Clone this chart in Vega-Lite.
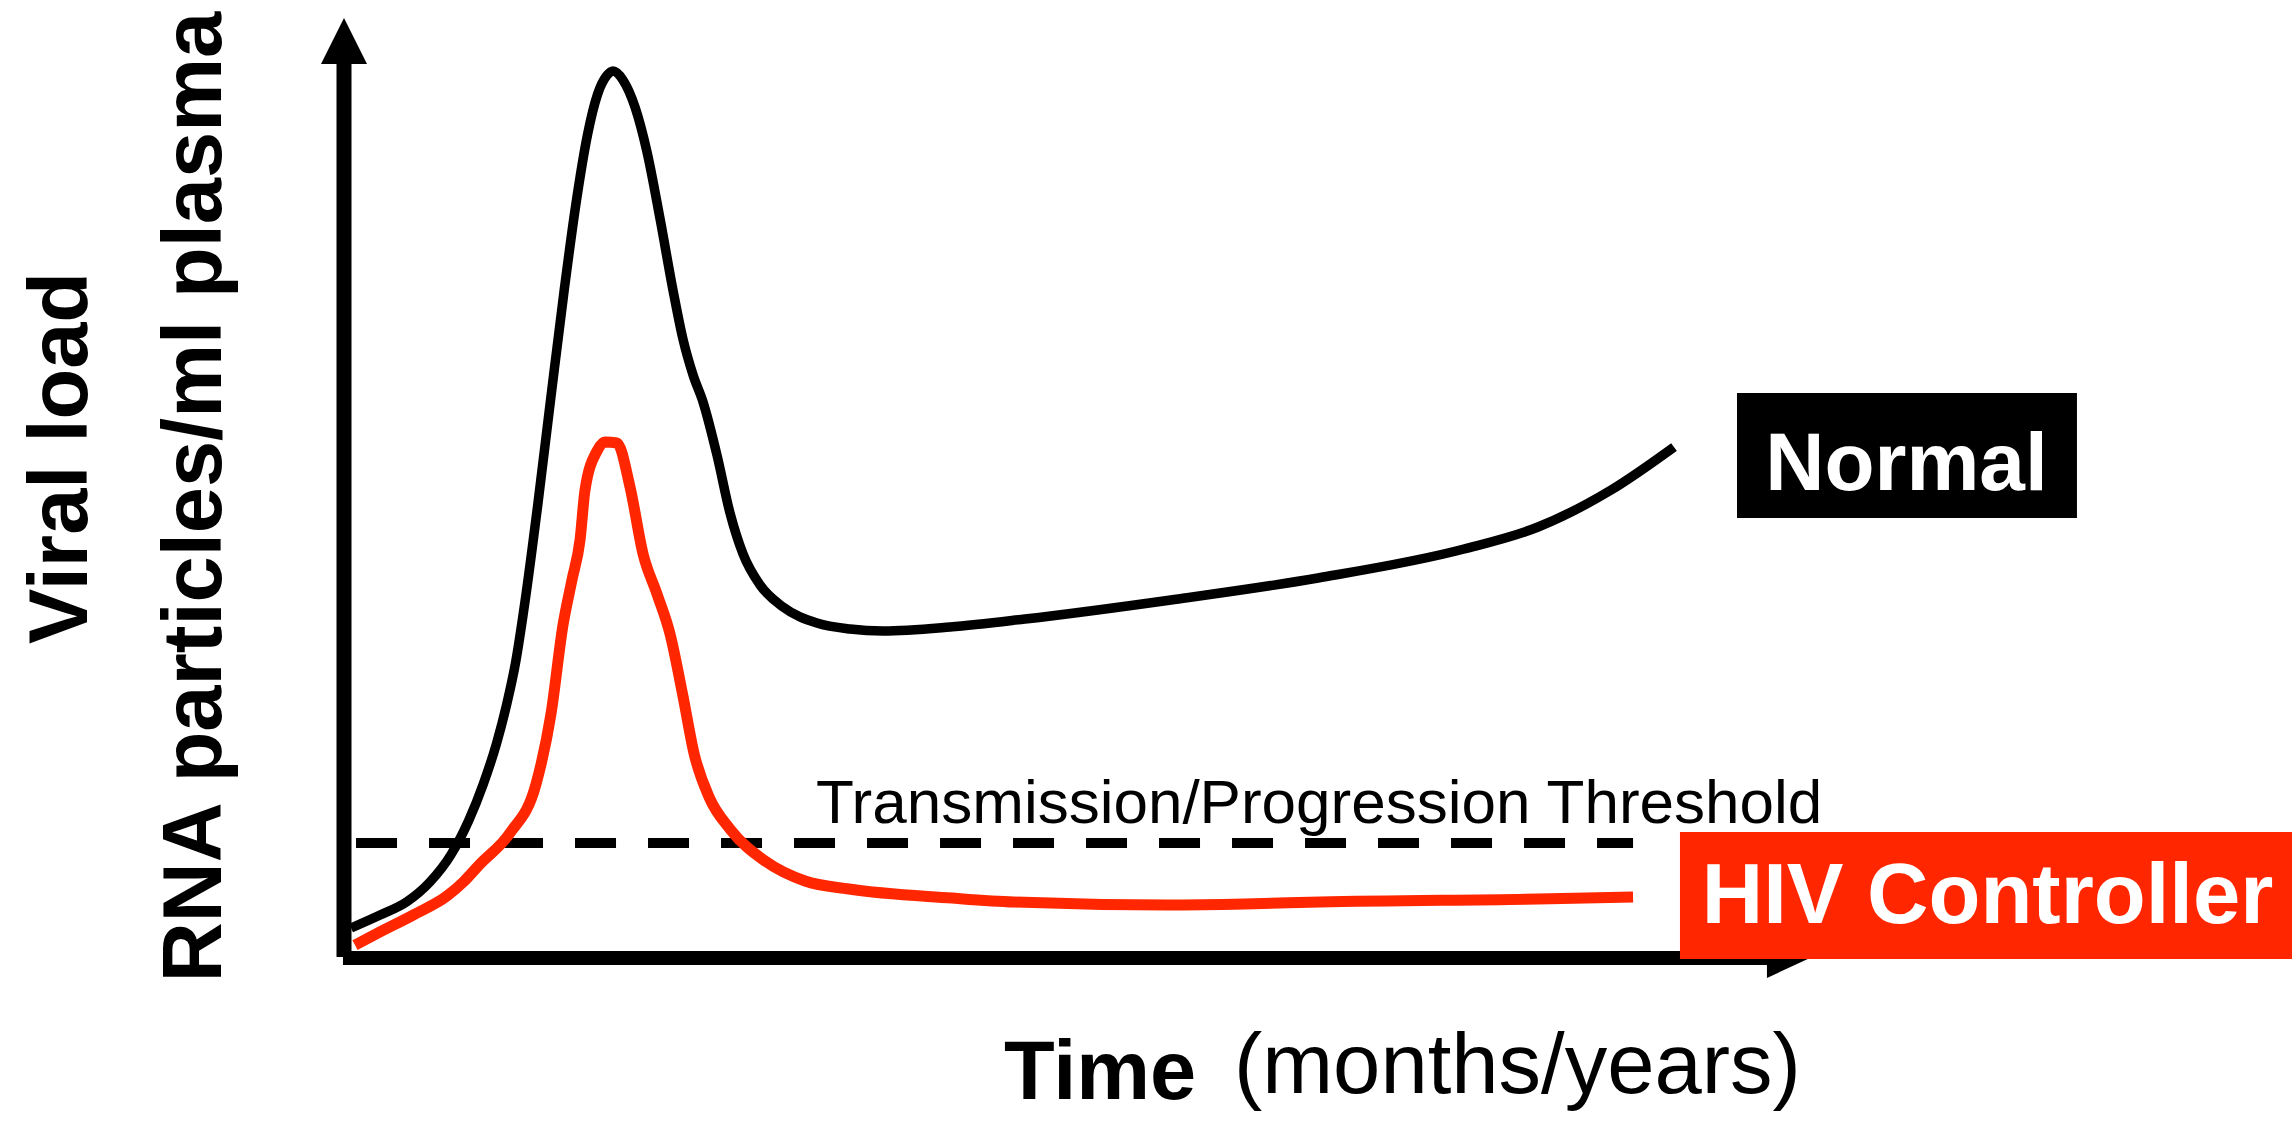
{
  "$schema": "https://vega.github.io/schema/vega-lite/v6.json",
  "width": 1466,
  "height": 940,
  "autosize": {"type": "none"},
  "padding": {"left": 344, "top": 18, "right": 486, "bottom": 165},
  "background": "white",
  "config": {"view": {"stroke": null}, "font": "Liberation Sans"},
  "data": {"values": [{}]},
  "datasets": {
    "curves": [
      {"series": "Normal", "t": 0.48, "load": 3.19},
      {"series": "Normal", "t": 2.46, "load": 4.57},
      {"series": "Normal", "t": 4.30, "load": 6.0},
      {"series": "Normal", "t": 5.87, "load": 8.1},
      {"series": "Normal", "t": 7.3, "load": 11.0},
      {"series": "Normal", "t": 8.5, "load": 14.6},
      {"series": "Normal", "t": 9.5, "load": 18.5},
      {"series": "Normal", "t": 10.4, "load": 22.8},
      {"series": "Normal", "t": 11.1, "load": 27.0},
      {"series": "Normal", "t": 11.7, "load": 31.4},
      {"series": "Normal", "t": 12.4, "load": 38.5},
      {"series": "Normal", "t": 13.2, "load": 48.0},
      {"series": "Normal", "t": 14.1, "load": 59.5},
      {"series": "Normal", "t": 15.0, "load": 70.8},
      {"series": "Normal", "t": 15.8, "load": 80.0},
      {"series": "Normal", "t": 16.6, "load": 87.5},
      {"series": "Normal", "t": 17.3, "load": 91.9},
      {"series": "Normal", "t": 17.94, "load": 93.9},
      {"series": "Normal", "t": 18.35, "load": 94.36},
      {"series": "Normal", "t": 19.03, "load": 93.40},
      {"series": "Normal", "t": 19.85, "load": 90.53},
      {"series": "Normal", "t": 20.67, "load": 85.74},
      {"series": "Normal", "t": 21.56, "load": 78.62},
      {"series": "Normal", "t": 22.44, "load": 71.06},
      {"series": "Normal", "t": 23.12, "load": 65.85},
      {"series": "Normal", "t": 23.81, "load": 62.02},
      {"series": "Normal", "t": 24.49, "load": 59.15},
      {"series": "Normal", "t": 25.44, "load": 53.51},
      {"series": "Normal", "t": 26.33, "load": 47.34},
      {"series": "Normal", "t": 27.22, "load": 42.98},
      {"series": "Normal", "t": 28.38, "load": 39.68},
      {"series": "Normal", "t": 29.95, "load": 37.34},
      {"series": "Normal", "t": 32.26, "load": 35.64},
      {"series": "Normal", "t": 34.52, "load": 35.0},
      {"series": "Normal", "t": 36.77, "load": 34.79},
      {"series": "Normal", "t": 41.34, "load": 35.21},
      {"series": "Normal", "t": 46.45, "load": 36.06},
      {"series": "Normal", "t": 56.41, "load": 38.09},
      {"series": "Normal", "t": 66.44, "load": 40.43},
      {"series": "Normal", "t": 76.40, "load": 43.51},
      {"series": "Normal", "t": 81.45, "load": 45.85},
      {"series": "Normal", "t": 86.43, "load": 49.79},
      {"series": "Normal", "t": 90.72, "load": 54.36},
      {"series": "HIV Controller", "t": 0.75, "load": 1.38},
      {"series": "HIV Controller", "t": 2.46, "load": 2.77},
      {"series": "HIV Controller", "t": 4.71, "load": 4.57},
      {"series": "HIV Controller", "t": 7.03, "load": 6.6},
      {"series": "HIV Controller", "t": 8.15, "load": 8.1},
      {"series": "HIV Controller", "t": 9.28, "load": 10.0},
      {"series": "HIV Controller", "t": 11.32, "load": 13.3},
      {"series": "HIV Controller", "t": 13.10, "load": 18.51},
      {"series": "HIV Controller", "t": 14.12, "load": 25.96},
      {"series": "HIV Controller", "t": 14.94, "load": 35.43},
      {"series": "HIV Controller", "t": 15.55, "load": 40.21},
      {"series": "HIV Controller", "t": 16.10, "load": 44.47},
      {"series": "HIV Controller", "t": 16.44, "load": 49.79},
      {"series": "HIV Controller", "t": 17.26, "load": 53.94},
      {"series": "HIV Controller", "t": 17.80, "load": 54.89},
      {"series": "HIV Controller", "t": 18.62, "load": 54.79},
      {"series": "HIV Controller", "t": 19.51, "load": 50.11},
      {"series": "HIV Controller", "t": 20.40, "load": 42.98},
      {"series": "HIV Controller", "t": 21.35, "load": 38.72},
      {"series": "HIV Controller", "t": 22.24, "load": 34.47},
      {"series": "HIV Controller", "t": 23.12, "load": 27.87},
      {"series": "HIV Controller", "t": 23.87, "load": 21.81},
      {"series": "HIV Controller", "t": 24.90, "load": 17.13},
      {"series": "HIV Controller", "t": 26.33, "load": 13.72},
      {"series": "HIV Controller", "t": 28.72, "load": 10.32},
      {"series": "HIV Controller", "t": 31.45, "load": 8.19},
      {"series": "HIV Controller", "t": 34.45, "load": 7.34},
      {"series": "HIV Controller", "t": 41.47, "load": 6.38},
      {"series": "HIV Controller", "t": 45.70, "load": 5.96},
      {"series": "HIV Controller", "t": 56.14, "load": 5.64},
      {"series": "HIV Controller", "t": 61.46, "load": 5.74},
      {"series": "HIV Controller", "t": 66.58, "load": 5.96},
      {"series": "HIV Controller", "t": 81.45, "load": 6.28},
      {"series": "HIV Controller", "t": 87.93, "load": 6.49}
    ]
  },
  "layer": [
    {
      "mark": {"type": "rule", "color": "black", "strokeWidth": 15, "strokeCap": "butt"},
      "encoding": {
        "x": {"datum": 0, "type": "quantitative", "scale": {"domain": [0, 100], "nice": false, "zero": false}, "axis": null},
        "y": {"datum": 0.1, "type": "quantitative", "scale": {"domain": [0, 100], "nice": false, "zero": false}, "axis": null},
        "y2": {"datum": 96}
      }
    },
    {
      "mark": {"type": "rule", "color": "black", "strokeWidth": 14, "strokeCap": "butt"},
      "encoding": {
        "x": {"datum": -0.07, "type": "quantitative"},
        "x2": {"datum": 97.2},
        "y": {"datum": 0, "type": "quantitative"}
      }
    },
    {
      "mark": {"type": "point", "shape": "M0,-1L1,1L-1,1Z", "filled": true, "color": "black", "opacity": 1, "size": 2116, "strokeWidth": 0},
      "encoding": {
        "x": {"datum": 0, "type": "quantitative"},
        "y": {"datum": 97.55, "type": "quantitative"}
      }
    },
    {
      "mark": {"type": "point", "shape": "M1,0L-1,-0.93L-1,0.93Z", "filled": true, "color": "black", "opacity": 1, "size": 1849, "strokeWidth": 0},
      "encoding": {
        "x": {"datum": 98.53, "type": "quantitative"},
        "y": {"datum": 0, "type": "quantitative"}
      }
    },
    {
      "mark": {"type": "rule", "color": "black", "strokeWidth": 10, "strokeDash": [41, 32], "strokeCap": "butt"},
      "encoding": {
        "x": {"datum": 0.82, "type": "quantitative"},
        "x2": {"datum": 87.93},
        "y": {"datum": 12.23, "type": "quantitative"}
      }
    },
    {
      "data": {"name": "curves"},
      "transform": [{"filter": "datum.series === 'Normal'"}],
      "mark": {"type": "line", "color": "black", "strokeWidth": 9.5, "interpolate": "monotone", "strokeCap": "butt", "strokeJoin": "round"},
      "encoding": {
        "x": {"field": "t", "type": "quantitative"},
        "y": {"field": "load", "type": "quantitative"}
      }
    },
    {
      "data": {"name": "curves"},
      "transform": [{"filter": "datum.series === 'HIV Controller'"}],
      "mark": {"type": "line", "color": "#ff2600", "strokeWidth": 11, "interpolate": "monotone", "strokeCap": "butt", "strokeJoin": "round"},
      "encoding": {
        "x": {"field": "t", "type": "quantitative"},
        "y": {"field": "load", "type": "quantitative"}
      }
    },
    {
      "mark": {"type": "rect", "color": "black"},
      "encoding": {
        "x": {"datum": 95.02, "type": "quantitative"},
        "x2": {"datum": 118.21},
        "y": {"datum": 60.11, "type": "quantitative"},
        "y2": {"datum": 46.81}
      }
    },
    {
      "mark": {"type": "rect", "color": "#ff2600"},
      "encoding": {
        "x": {"datum": 91.13, "type": "quantitative"},
        "x2": {"datum": 132.88},
        "y": {"datum": 13.4, "type": "quantitative"},
        "y2": {"datum": -0.11}
      }
    },
    {
      "mark": {"type": "text", "color": "white", "font": "Liberation Sans", "fontWeight": "bold", "fontSize": 82, "align": "center", "baseline": "alphabetic"},
      "encoding": {
        "x": {"datum": 106.58, "type": "quantitative"},
        "y": {"datum": 49.79, "type": "quantitative"},
        "text": {"value": "Normal"}
      }
    },
    {
      "mark": {"type": "text", "color": "white", "font": "Liberation Sans", "fontWeight": "bold", "fontSize": 85, "align": "center", "baseline": "alphabetic"},
      "encoding": {
        "x": {"datum": 112.11, "type": "quantitative"},
        "y": {"datum": 3.72, "type": "quantitative"},
        "text": {"value": "HIV Controller"}
      }
    },
    {
      "mark": {"type": "text", "color": "black", "font": "Liberation Sans", "fontSize": 62, "align": "left", "baseline": "alphabetic"},
      "encoding": {
        "x": {"datum": 32.2, "type": "quantitative"},
        "y": {"datum": 14.36, "type": "quantitative"},
        "text": {"value": "Transmission/Progression Threshold"}
      }
    },
    {
      "mark": {"type": "text", "color": "black", "font": "Liberation Sans", "fontWeight": "bold", "fontSize": 83, "align": "center", "baseline": "alphabetic", "angle": 270},
      "encoding": {
        "x": {"datum": -17.53, "type": "quantitative"},
        "y": {"datum": 53.19, "type": "quantitative"},
        "text": {"value": "Viral load"}
      }
    },
    {
      "mark": {"type": "text", "color": "black", "font": "Liberation Sans", "fontWeight": "bold", "fontSize": 83, "align": "center", "baseline": "alphabetic", "angle": 270},
      "encoding": {
        "x": {"datum": -8.39, "type": "quantitative"},
        "y": {"datum": 49.04, "type": "quantitative"},
        "text": {"value": "RNA particles/ml plasma"}
      }
    },
    {
      "mark": {"type": "text", "color": "black", "font": "Liberation Sans", "fontWeight": "bold", "fontSize": 83, "align": "left", "baseline": "alphabetic"},
      "encoding": {
        "x": {"datum": 45.02, "type": "quantitative"},
        "y": {"datum": -15.05, "type": "quantitative"},
        "text": {"value": "Time"}
      }
    },
    {
      "mark": {"type": "text", "color": "black", "font": "Liberation Sans", "fontSize": 85, "align": "left", "baseline": "alphabetic"},
      "encoding": {
        "x": {"datum": 60.71, "type": "quantitative"},
        "y": {"datum": -14.4, "type": "quantitative"},
        "text": {"value": "(months/years)"}
      }
    }
  ]
}
